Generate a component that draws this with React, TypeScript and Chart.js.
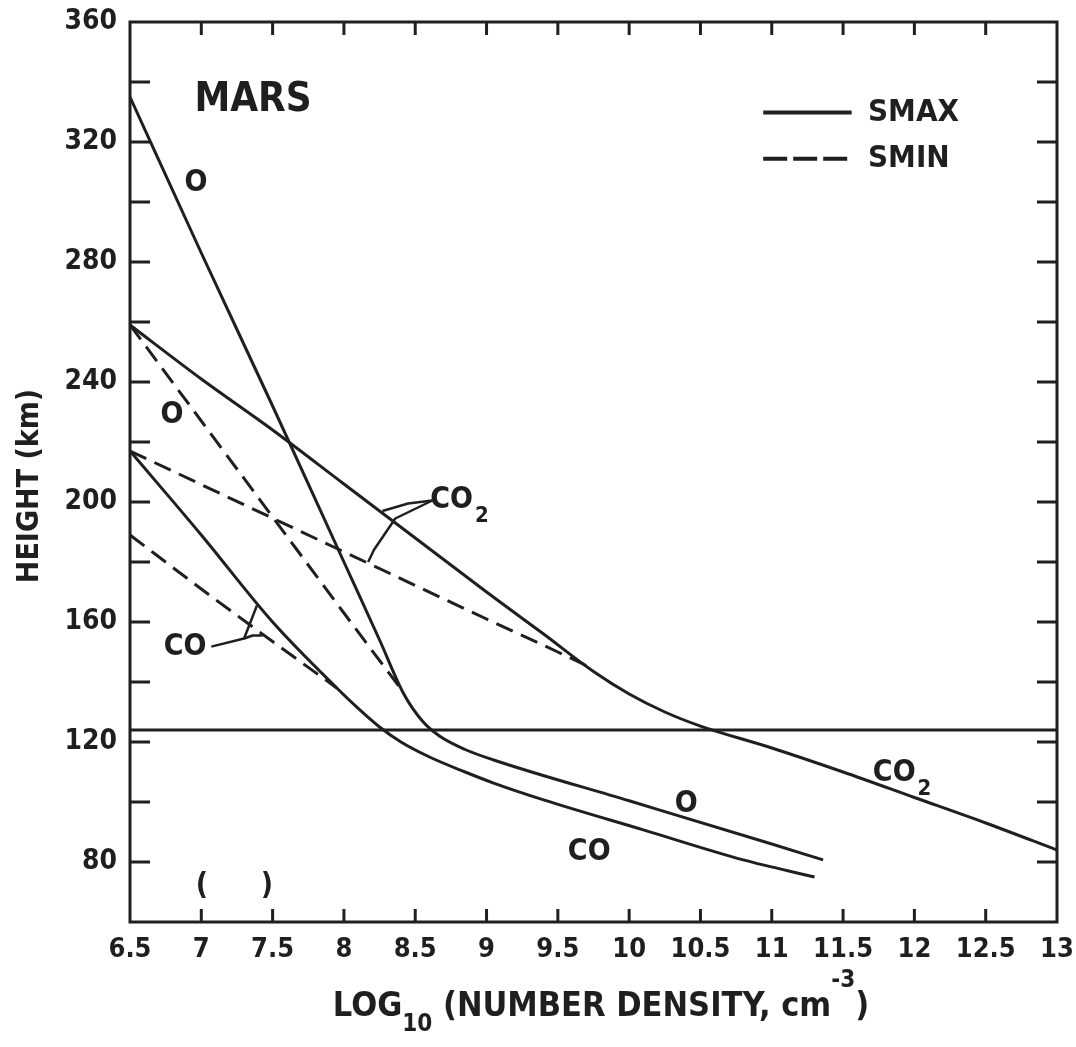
import React, { useEffect, useRef } from 'react';
import { Chart, registerables } from 'chart.js';

Chart.register(...registerables);

const INK = '#1f1f1f';
const FONT = "'DejaVu Sans Condensed', 'DejaVu Sans', sans-serif";

// Axis ranges and tick labels
const X_MIN = 6.5;
const X_MAX = 13;
const Y_MIN = 60;
const Y_MAX = 360;
const X_STEP = 0.5;
const Y_STEP = 20;
const Y_TICK_LABELS = [80, 120, 160, 200, 240, 280, 320, 360];

// SMAX (solid) profiles: log10 number density vs height (km)
const O_SMAX_X = [6.5, 7.0, 7.5, 8.0, 8.25, 8.42, 8.55, 8.67, 8.85, 9.05, 10.0, 11.0, 11.36];
const O_SMAX_Y = [335, 283, 232, 180, 154, 136, 127, 122, 117.5, 114, 100.4, 86, 80.7];
const CO_SMAX_X = [6.5, 7.0, 7.5, 7.95, 8.1, 8.25, 8.4, 8.6, 8.85, 9.05, 9.4, 10.1, 10.8, 11.3];
const CO_SMAX_Y = [217, 189, 160, 138, 131.2, 125, 120, 115, 110, 106.3, 100.7, 90.7, 80.7, 75];
const CO2_SMAX_X = [6.5, 7.0, 7.5, 8.0, 8.5, 9.0, 9.4, 9.75, 10.0, 10.25, 10.5, 11.0, 11.5, 12.0, 12.5, 13.0];
const CO2_SMAX_Y = [259, 241, 224, 206, 188, 170, 156, 143.5, 136, 130, 125.3, 118, 110, 101.5, 93, 84];

// SMIN (dashed) profiles
const O_SMIN_X = [6.5, 7.0, 7.5, 8.0, 8.3, 8.42];
const O_SMIN_Y = [259, 227, 195, 163, 144, 136.5];
const CO_SMIN_X = [6.5, 7.0, 7.5, 7.95];
const CO_SMIN_Y = [189, 171, 153.5, 138];
const CO2_SMIN_X = [6.5, 7.0, 7.5, 8.0, 8.5, 9.0, 9.5, 9.72];
const CO2_SMIN_Y = [217, 205.8, 194.6, 183.4, 172.2, 161, 150, 145];

// Horizontal reference level
const LEVEL_X = [6.5, 13];
const LEVEL_Y = [124, 124];

// In-plot annotations (data coordinates)
const CURVE_LABELS = [
  { text: 'O', sub: '', x: 6.963, y: 306.3 },
  { text: 'O', sub: '', x: 6.794, y: 228.8 },
  { text: 'CO', sub: '2', x: 8.81, y: 200.6 },
  { text: 'CO', sub: '', x: 6.886, y: 151.6 },
  { text: 'O', sub: '', x: 10.4, y: 99.2 },
  { text: 'CO', sub: '', x: 9.72, y: 83.3 },
  { text: 'CO', sub: '2', x: 11.914, y: 109.7 },
  { text: '(', sub: '', x: 7.005, y: 72 },
  { text: ')', sub: '', x: 7.46, y: 72 },
];
const PLANET_LABEL = { text: 'MARS', x: 7.363, y: 333.8 };
const CO2_LEADER_A = [[8.62, 200.5], [8.45, 199.5], [8.27, 197]];
const CO2_LEADER_B = [[8.62, 200.5], [8.36, 194.5], [8.21, 184], [8.17, 180]];
const CO_LEADER_A = [[7.07, 151.8], [7.3, 154.5], [7.39, 165.5]];
const CO_LEADER_B = [[7.3, 154.5], [7.36, 155.5], [7.43, 155.5]];
const LEGEND_ITEMS = [
  { text: 'SMAX', dashed: false, y: 329.8 },
  { text: 'SMIN', dashed: true, y: 314.4 },
];
const LEGEND_X = [10.94, 11.56, 11.675];

const DASH = [18, 9];

function zip(xs: number[], ys: number[]) {
  return xs.map((x, i) => ({ x, y: ys[i] }));
}

const overlayPlugin = {
  id: 'overlay',
  afterDraw(chart: any) {
    const { ctx, chartArea: a, scales } = chart;
    const xs = scales.x;
    const ys = scales.y;
    const X = (v: number) => xs.getPixelForValue(v);
    const Y = (v: number) => ys.getPixelForValue(v);
    ctx.save();
    ctx.strokeStyle = INK;
    ctx.fillStyle = INK;
    ctx.lineCap = 'butt';

    // frame
    ctx.lineWidth = 3;
    ctx.strokeRect(a.left, a.top, a.right - a.left, a.bottom - a.top);

    // inward ticks
    xs.ticks.forEach((t: any) => {
      if (t.value <= X_MIN || t.value >= X_MAX) return;
      const px = X(t.value);
      ctx.beginPath();
      ctx.moveTo(px, a.top);
      ctx.lineTo(px, a.top + 13);
      ctx.moveTo(px, a.bottom);
      ctx.lineTo(px, a.bottom - 13);
      ctx.stroke();
    });
    ys.ticks.forEach((t: any) => {
      if (t.value <= Y_MIN || t.value >= Y_MAX) return;
      const py = Y(t.value);
      ctx.beginPath();
      ctx.moveTo(a.left, py);
      ctx.lineTo(a.left + 20, py);
      ctx.moveTo(a.right, py);
      ctx.lineTo(a.right - 20, py);
      ctx.stroke();
    });

    // leaders
    const drawLeader = (pts: number[][]) => {
      ctx.beginPath();
      ctx.moveTo(X(pts[0][0]), Y(pts[0][1]));
      for (let i = 1; i < pts.length; i++) ctx.lineTo(X(pts[i][0]), Y(pts[i][1]));
      ctx.lineWidth = 2.5;
      ctx.lineJoin = 'round';
      ctx.stroke();
    };
    [CO2_LEADER_A, CO2_LEADER_B, CO_LEADER_A, CO_LEADER_B].forEach(drawLeader);

    // curve labels
    ctx.textBaseline = 'middle';
    CURVE_LABELS.forEach((l) => {
      const main = `bold 30px ${FONT}`;
      const small = `bold 22px ${FONT}`;
      ctx.font = main;
      const w1 = ctx.measureText(l.text).width;
      ctx.font = small;
      const w2 = l.sub ? ctx.measureText(l.sub).width + 2 : 0;
      const x0 = X(l.x) - (w1 + w2) / 2;
      const y0 = Y(l.y);
      ctx.font = main;
      ctx.textAlign = 'left';
      ctx.fillText(l.text, x0, y0);
      if (l.sub) {
        ctx.font = small;
        ctx.fillText(l.sub, x0 + w1 + 2, y0 + 16);
      }
    });

    // planet label
    ctx.font = `bold 40px ${FONT}`;
    ctx.textAlign = 'center';
    ctx.fillText(PLANET_LABEL.text, X(PLANET_LABEL.x), Y(PLANET_LABEL.y));

    // legend
    LEGEND_ITEMS.forEach((it) => {
      const py = Y(it.y);
      ctx.beginPath();
      ctx.lineWidth = 4;
      ctx.setLineDash(it.dashed ? [24, 6] : []);
      ctx.moveTo(X(LEGEND_X[0]), py);
      ctx.lineTo(X(LEGEND_X[1]), py);
      ctx.stroke();
      ctx.setLineDash([]);
      ctx.font = `bold 31px ${FONT}`;
      ctx.textAlign = 'left';
      ctx.fillText(it.text, X(LEGEND_X[2]), py);
    });

    // x axis title with sub/superscript
    const big = `bold 34px ${FONT}`;
    const sm = `bold 24px ${FONT}`;
    const parts = [
      { t: 'LOG', f: big, dy: 0 },
      { t: '10', f: sm, dy: 18 },
      { t: ' (NUMBER DENSITY, cm', f: big, dy: 0 },
      { t: '-3', f: sm, dy: -26 },
      { t: ')', f: big, dy: 0 },
    ];
    let total = 0;
    parts.forEach((p) => {
      ctx.font = p.f;
      total += ctx.measureText(p.t).width;
    });
    let cx = 601 - total / 2;
    const ty = 1007;
    ctx.textAlign = 'left';
    parts.forEach((p) => {
      ctx.font = p.f;
      ctx.fillText(p.t, cx, ty + p.dy);
      cx += ctx.measureText(p.t).width;
    });

    // y axis title
    ctx.save();
    ctx.translate(30, 486);
    ctx.rotate(-Math.PI / 2);
    ctx.font = `bold 30px ${FONT}`;
    ctx.textAlign = 'center';
    ctx.fillText('HEIGHT (km)', 0, 0);
    ctx.restore();

    ctx.restore();
  },
};

export default function App() {
  const ref = useRef<HTMLCanvasElement | null>(null);
  useEffect(() => {
    if (!ref.current) return;
    const line = (label: string, xs: number[], ys: number[], dashed: boolean) => ({
      label,
      data: zip(xs, ys),
      borderColor: INK,
      borderWidth: 3,
      borderDash: dashed ? DASH : [],
      pointRadius: 0,
      fill: false,
      cubicInterpolationMode: 'monotone' as const,
    });
    const chart = new Chart(ref.current, {
      type: 'line',
      data: {
        datasets: [
          line('O SMAX', O_SMAX_X, O_SMAX_Y, false),
          line('CO SMAX', CO_SMAX_X, CO_SMAX_Y, false),
          line('CO2 SMAX', CO2_SMAX_X, CO2_SMAX_Y, false),
          line('O SMIN', O_SMIN_X, O_SMIN_Y, true),
          line('CO SMIN', CO_SMIN_X, CO_SMIN_Y, true),
          line('CO2 SMIN', CO2_SMIN_X, CO2_SMIN_Y, true),
          line('Level', LEVEL_X, LEVEL_Y, false),
        ],
      },
      options: {
        animation: false,
        responsive: false,
        devicePixelRatio: 1,
        layout: { padding: { top: 22, right: 19, left: 0, bottom: 0 } },
        plugins: { legend: { display: false }, tooltip: { enabled: false } },
        scales: {
          x: {
            type: 'linear',
            min: X_MIN,
            max: X_MAX,
            grid: { display: false },
            border: { display: false },
            afterFit: (s: any) => {
              s.height = 125;
              s.paddingLeft = 0;
              s.paddingRight = 0;
            },
            ticks: {
              stepSize: X_STEP,
              padding: 4,
              color: INK,
              font: { family: FONT, size: 27, weight: 'bold' },
              maxRotation: 0,
              autoSkip: false,
              callback: (v: any) => String(v),
            },
          },
          y: {
            type: 'linear',
            min: Y_MIN,
            max: Y_MAX,
            grid: { display: false },
            border: { display: false },
            afterFit: (s: any) => {
              s.width = 130;
              s.paddingTop = 0;
              s.paddingBottom = 0;
            },
            ticks: {
              stepSize: Y_STEP,
              padding: 5,
              color: INK,
              font: { family: FONT, size: 28, weight: 'bold' },
              autoSkip: false,
              callback: (v: any) => (Y_TICK_LABELS.includes(Number(v)) ? String(v) : ''),
            },
          },
        },
      },
      plugins: [overlayPlugin],
    });
    return () => chart.destroy();
  }, []);
  return (
    <div style={{ position: 'fixed', left: 0, top: 0, width: 1076, height: 1047, background: '#fff' }}>
      <canvas ref={ref} width={1076} height={1047} />
    </div>
  );
}
